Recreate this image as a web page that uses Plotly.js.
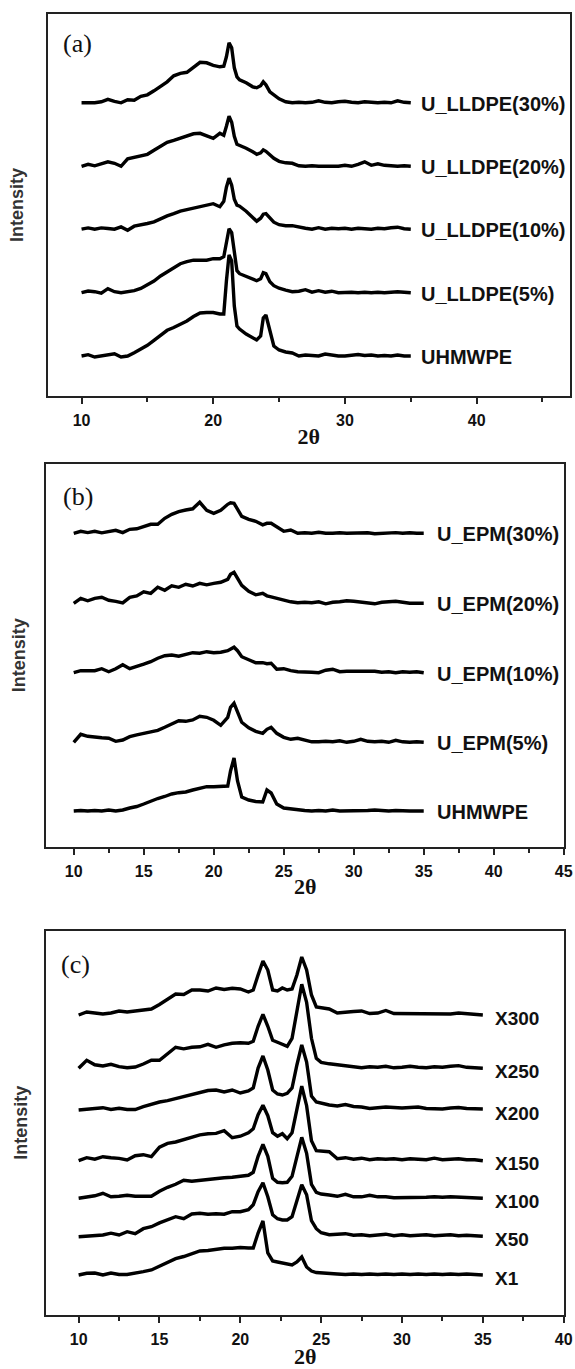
<!DOCTYPE html>
<html>
<head>
<meta charset="utf-8">
<script src="https://cdn.plot.ly/plotly-3.0.1.min.js"></script>
<style>html,body{margin:0;padding:0;background:#fff;}#chart{width:575px;height:1369px;}</style>
</head>
<body>
<div id="chart"></div>
<script>
// ---------- 2-theta grids (degrees) ----------
const thetaA = [10,10.5,11,11.5,12,12.5,13,13.5,14,14.5,15,15.5,16,16.5,17,17.5,18,18.5,19,19.5,20,
  20.5,20.8,21.0,21.2,21.4,21.6,21.8,22,
  22.5,23,23.3,23.6,23.8,24,24.3,24.6,25,
  25.5,26,26.5,27,27.5,28,28.5,29,29.5,30,30.5,31,31.5,32,32.5,33,33.5,34,34.5,35];
const thetaB = [10,10.5,11,11.5,12,12.5,13,13.5,14,14.5,15,15.5,16,16.5,17,17.5,18,18.5,19,19.5,20,
  20.5,21,21.2,21.45,21.7,22,22.5,23,23.5,23.8,24.1,24.5,25,
  25.5,26,26.5,27,27.5,28,28.5,29,29.5,30,30.5,31,31.5,32,32.5,33,33.5,34,34.5,35];
const thetaC = [10,10.5,11,11.5,12,12.5,13,13.5,14,14.5,15,15.5,16,16.5,17,17.5,18,18.5,19,19.5,20,
  20.5,20.8,21.1,21.4,21.7,22,22.3,22.6,22.9,23.2,23.5,23.8,24.1,24.4,24.7,25,
  25.5,26,26.5,27,27.5,28,28.5,29,29.5,30,30.5,31,31.5,32,32.5,33,33.5,34,34.5,35];

// ---------- panel (a): relative intensity (a.u.) ----------
const a_UHMWPE = [0,1.3,-1,0,0.7,2.3,-1,0,3.3,7.3,10.7,15.7,20.7,25.7,28.5,32,35,39.5,43,43.5,43.5,
  42,42,75,101,95,50,30,27, 22,18,16,20,38,41,25,10,6,
  4,3,0,1,0.5,0,2,1,0,0,0.5,1.5,0.5,1,0,0.5,0,1,0,0];
const a_LLDPE5 = [0,1.7,1,-0.5,4,1,0,1,2,4.3,7.7,11.7,16.7,21,25,29,31,32.5,32.5,32.5,34,
  34,36,50,64,60,40,22,19, 16,13,12,14,20,19,11,7,4.5,
  2.5,1,1.5,3,0.5,2,0.5,1.5,0,0.5,0.5,0,0.5,0,0.5,0,0.5,1,0.5,0];
const a_LLDPE10 = [0,1.3,0,1.3,0.7,0,2.3,-1,3,4,5.7,7.3,10.7,13.3,15.5,18,19.5,21,22,23.5,25.5,
  22.5,28,42,51,44,30,24,23, 18,12,8,11,15,15.5,11,7,4.5,
  3.5,3.5,2,1,0,1.5,0,1,0.5,1,0,1,0.5,0,1,0.5,1.5,2,0.5,0];
const a_LLDPE20 = [0,2,0.5,2.5,4.5,3,0,7.5,9,10,12,16,20,24,26,28,30,32.5,33,30.5,28,
  33,31,40,50,44,30,22,21, 18,14.5,12,13.5,16.5,15,11,8,5,
  3.5,3,0.5,0,0.5,0,0,0.5,0,1,0,2,4.5,1,2.5,1,0.5,0,0.5,0];
const a_LLDPE30 = [0,0,0,1,3.5,1.5,0,3,2.5,6.5,8,12,16,21,27,29.5,30.5,35,40.5,40,37.5,
  36,36.5,46,60,55,35,26,23, 20,16,15,17,21,18,11,8,4,
  1,0,0.5,0,0.5,2,0.5,0,1,1.5,0.5,0,1,0.5,0,0.5,0,2,0.5,0];
const labelsA = ['UHMWPE','U_LLDPE(5%)','U_LLDPE(10%)','U_LLDPE(20%)','U_LLDPE(30%)'];
const offsetsA = [40,103.3,166.8,229.7,293.2];

// ---------- panel (b) ----------
const b_UHMWPE = [0,0.5,0,0.5,0,1,0,1,3,4.5,7,10,12.5,14.5,17,18.3,19,21,23,24.3,24.3,
  24.3,25,40,53,30,14,11,9.5,9,21,18,7,3,
  2,1,0.5,0,0.5,0,1,0,0,0,0,0.5,1,0.5,0,0.5,0,0,0,0];
const b_EPM5 = [0,8,6,5,4.5,4,1,2.3,5.7,7.5,9,10,12,15,18.5,21.5,21,22.3,26,25,22,
  17,25,35,39,30,20,14.5,11,9,13,15,9,5,
  3,4,2,0.5,0.5,1,0.5,1.5,0,1,3,1,0.5,1,0,2,0.5,0,0.5,0];
const b_EPM10 = [0,2,2,2,4,1,4,8,4,6,8.5,11,14.5,17,17.7,16.5,18.5,20,19.5,21,20,
  20.5,22,24,25.5,22,16,13,10,10,9,9.5,3.5,4,
  2,1,1,0.5,0,2.5,3.5,1,1.5,1.5,1,1,1.5,0.5,1,0,1,0.5,1,0];
const b_EPM20 = [0,5,2.5,5,6,3,2,0.5,6,7.3,11.5,10,16,13,17.5,16,19,17.3,20,18.5,20,
  21,24,29,31,25,18,12,8.5,10,7.5,6.5,5,3.5,
  1.5,0.5,1,0.5,1.5,-0.5,1,1.5,2.5,2,1,0.5,-0.5,1,1.5,2,1,0,0,0];
const b_EPM30 = [0,2,0.7,2,0.5,1.5,3,0.7,4,4.5,6.7,9,9,15,19,21.7,23.3,24.5,31,23,20,
  23,29,30.5,30,24,17,14,12,8.5,10,10,6,2,
  3.3,0,0.5,0,1,0,0,0.5,0,0.3,0,0.5,-0.5,0,0.5,0.7,0,0.5,0,0];
const labelsB = ['UHMWPE','U_EPM(5%)','U_EPM(10%)','U_EPM(20%)','U_EPM(30%)'];
const offsetsB = [35.7,104.4,174,243.4,313.4];

// ---------- panel (c) ----------
const c_X1 = [0,1.7,2,0,2,0.5,0.5,1.5,3.3,5,8.5,12.3,16.3,18.5,21.7,24,24.5,25.7,26.7,26.7,27.5,
  27,27,42,54,22,14,13,12,11,10,13,18,8,4,2.5,2,
  1,1,0.5,1,0.5,1,0.5,1,0.5,1,0.5,1,0.5,1,0.5,1,0.5,1,0.5,0];
const c_X50 = [0,0.7,0.7,1.7,3.5,1.7,5,3,8,10,13.8,16.7,20,18,22.7,23.5,22.5,23,22.5,25,25,
  27,32,45,54,40,22,18,16.7,16.7,20,36,52,42,16,8,4,
  2,2.5,3,1.5,2,1,1.5,2.5,1,2,1,1.5,2,1,1.5,2,1,1.5,1,0.5];
const c_X100 = [0,1,2.5,5,1.5,2,3,2,2,2,7,11,14,18,17,18,19,20,20.5,21,22,
  23,26,42,54,42,20,16,15.5,16,22,42,61,45,14,6,4.3,
  3.3,2,4,1.5,1.5,3,1.5,1.5,0.5,0.5,1,1,1,1.5,1,1.5,1,1,0.5,0];
const c_X150 = [0,3,1.5,4,3,2.3,0.7,5,6,4,13.5,17.3,18.7,21,23.3,25.8,27,27.3,30,23,24.5,
  28,32,46,55.5,45,28,24.5,27,22,28,52,74.5,55,20,10,9.5,
  9,2,3,1.5,2.5,1,2,1.5,2,1,2,1.5,1,2.5,1,1.5,2,1,1,0];
const c_X200 = [0,0.5,1,2.3,0.5,1.7,0.5,0.5,3.3,6,8,9.3,11.3,13.5,15,17.5,19.5,20,18,20,17,
  19,22,42,54,40,20,16,15,16.7,22,45,65,48,14,8,6.7,
  5,4,5.5,3.5,3,1.5,2,3,2.5,2,2.5,3,1.5,1,1,2,2.5,1.5,1,1];
const c_X250 = [0,8,3.5,2.3,4,1.7,0.5,1.3,4.3,8,8,15,21,19.5,21,21.5,24,21,23.5,25,25.5,
  25,27,42,54,42,28,26,24,22,30,55,84,66,30,10,6,
  4.5,3.3,2.5,1,0.5,1.5,1,2,0.5,1,2,1,0.5,1.5,1,2,2.7,1,0.5,0];
const c_X300 = [0,3,2,1,2,4,3,4,4.3,6,10.5,15.7,21,20.5,25,25,24,27,25.5,26.7,26,
  23,25,40,54,45,25,24,27,25,26,40,58,45,20,8,7,
  6,2,3,3.5,4,1.5,2,4.5,1.5,1.5,1,1.5,1,1,1.5,1,2,1.5,1,0];
const labelsC = ['X1','X50','X100','X150','X200','X250','X300'];
const offsetsC = [40,78.3,116.7,154.3,205,246.7,300];

// ---------- build ----------
const seriesA = [a_UHMWPE,a_LLDPE5,a_LLDPE10,a_LLDPE20,a_LLDPE30];
const seriesB = [b_UHMWPE,b_EPM5,b_EPM10,b_EPM20,b_EPM30];
const seriesC = [c_X1,c_X50,c_X100,c_X150,c_X200,c_X250,c_X300];

const traces = [];
const annotations = [];
const labelFont = {family:'Liberation Sans, Arial, sans-serif', size:20, color:'#111', weight:'bold'};

function addPanel(theta, series, offsets, labels, ax, labelTheta, fontSize, yshift) {
  series.forEach((vals, i) => {
    traces.push({
      type:'scatter', mode:'lines', x: theta, y: vals.map(v => v + offsets[i]),
      xaxis:'x'+ax, yaxis:'y'+ax, name: labels[i], showlegend:false,
      line:{color:'#000', width:3.4, shape:'linear'}, hoverinfo:'skip'
    });
    annotations.push({
      xref:'x'+ax, yref:'y'+ax, x: labelTheta, y: offsets[i], text: labels[i],
      xanchor:'left', yanchor:'middle', showarrow:false, yshift: yshift,
      font: Object.assign({}, labelFont, {size: fontSize})
    });
  });
}
addPanel(thetaA, seriesA, offsetsA, labelsA, '', 35.6, 20, -1);
addPanel(thetaB, seriesB, offsetsB, labelsB, '2', 35.8, 20, -1);
addPanel(thetaC, seriesC, offsetsC, labelsC, '3', 35.6, 19, -3);

// panel letters
[['(a)','', 0.025, 0.924],['(b)','2',0.028,0.9146],['(c)','3',0.024,0.913]].forEach(p => {
  annotations.push({
    xref:(p[1]===''?'x':'x'+p[1])+' domain', yref:(p[1]===''?'y':'y'+p[1])+' domain',
    x:p[2], y:p[3], text:p[0], xanchor:'left', yanchor:'middle', showarrow:false,
    font:{family:'Liberation Serif, Times New Roman, serif', size:26, color:'#111'}
  });
});

const W = 575, H = 1369;
function xd(l, r){ return [l/W, r/W]; }
function yd(t, b){ return [1 - b/H, 1 - t/H]; }

const tickFont = {family:'Liberation Sans, Arial, sans-serif', size:16, color:'#111', weight:'bold'};
const xTitleFont = {family:'Liberation Serif, Times New Roman, serif', size:22, color:'#111', weight:'bold'};
const yTitleFont = {family:'Liberation Sans, Arial, sans-serif', size:18, color:'#333', weight:'bold'};

function xAxis(domain, range, dtick, minor, anchor) {
  return {
    domain: domain, range: range, anchor: anchor,
    tickmode:'linear', tick0:0, dtick: dtick,
    ticks:'outside', ticklen:6, tickwidth:2, tickcolor:'#222',
    minor:{dtick: minor, tick0:0, ticks:'outside', ticklen:4, tickwidth:2, tickcolor:'#222', showgrid:false},
    showline:true, linewidth:2, linecolor:'#222', mirror:true,
    showgrid:false, zeroline:false, tickfont: tickFont, ticklabelstandoff: 3,
    ticklabeloverflow:'allow',
    title:{text:'2θ', font: xTitleFont, standoff: 0}
  };
}
function yAxis(domain, range, anchor, standoff) {
  return {
    domain: domain, range: range, anchor: anchor,
    showticklabels:false, ticks:'', showline:true, linewidth:2, linecolor:'#222', mirror:true,
    showgrid:false, zeroline:false,
    title:{text:'Intensity', font: yTitleFont, standoff: standoff}
  };
}

const layout = {
  width: W, height: H, margin:{l:0, r:0, t:0, b:0},
  paper_bgcolor:'#fff', plot_bgcolor:'#fff', showlegend:false,
  xaxis:  xAxis(xd(48.1, 569.6), [7.46, 47.06], 10, 5, 'y'),
  yaxis:  yAxis(yd(14, 396), [0, 382], 'x', 18),
  xaxis2: xAxis(xd(46.3, 564), [8.04, 45.02], 5, 2.5, 'y2'),
  yaxis2: yAxis(yd(464, 846.7), [0, 382.7], 'x2', 14),
  xaxis3: xAxis(xd(46.3, 564), [8.0, 40.02], 5, 2.5, 'y3'),
  yaxis3: yAxis(yd(930.7, 1315), [0, 384.3], 'x3', 12),
  annotations: annotations
};

Plotly.newPlot('chart', traces, layout, {staticPlot:true, displayModeBar:false});
</script>
</body>
</html>
